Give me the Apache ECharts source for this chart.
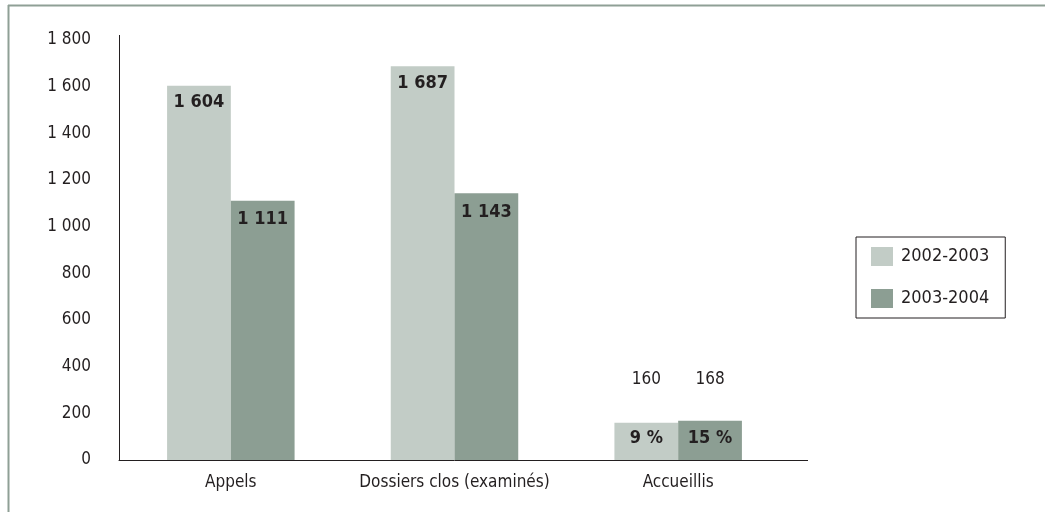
<!DOCTYPE html>
<html>
<head>
<meta charset="utf-8">
<script src="https://cdn.jsdelivr.net/npm/echarts@6/dist/echarts.min.js"></script>
<style>
  html, body { margin: 0; padding: 0; background: #fff; }
  #chart { width: 1045px; height: 512px; }
</style>
</head>
<body>
<div id="chart"></div>
<script>
  // data
  var categories = ['Appels', 'Dossiers clos (examinés)', 'Accueillis'];
  var seriesNames = ['2002-2003', '2003-2004'];
  var values0203 = [1604, 1687, 160];
  var values0304 = [1111, 1143, 168];
  var accueillisPct = ['9 %', '15 %'];
  var yTicks = [0, 200, 400, 600, 800, 1000, 1200, 1400, 1600, 1800];

  var FONT = "'Liberation Sans Narrow', 'DejaVu Sans Condensed', 'Liberation Sans', sans-serif";
  var TEXT = '#231f20';

  function fmt(n) {
    // thousands separated by a space, french style
    return String(n).replace(/\B(?=(\d{3})+(?!\d))/g, ' ');
  }

  function buildData(values, idx) {
    return values.map(function (v, i) {
      if (i === 2) {
        return {
          value: v,
          label: {
            position: 'insideBottom',
            distance: 12,
            formatter: '{v|' + fmt(v) + '}\n{gap|}\n{p|' + accueillisPct[idx] + '}',
            rich: {
              v: { fontFamily: FONT, fontSize: 17, fontWeight: 'normal', color: TEXT, lineHeight: 20 },
              gap: { lineHeight: 38 },
              p: { fontFamily: FONT, fontSize: 18, fontWeight: 'bold', color: TEXT, lineHeight: 20 }
            }
          }
        };
      }
      return v;
    });
  }

  var myChart = echarts.init(document.getElementById('chart'));
  var option = {
    backgroundColor: '#fff',
    animation: false,
    color: ['#c2ccc6', '#8c9e93'],
    textStyle: { fontFamily: FONT },
    graphic: [
      { type: 'line', shape: { x1: 8, y1: 5.5, x2: 1045, y2: 5.5 }, style: { stroke: '#8fa096', lineWidth: 2 } },
      { type: 'line', shape: { x1: 8.5, y1: 5, x2: 8.5, y2: 512 }, style: { stroke: '#8fa096', lineWidth: 2 } },
      { type: 'line', shape: { x1: 790, y1: 460.5, x2: 808, y2: 460.5 }, style: { stroke: TEXT, lineWidth: 1 } },
      { type: 'line', shape: { x1: 119.5, y1: 35, x2: 119.5, y2: 41 }, style: { stroke: TEXT, lineWidth: 1 } }
    ],
    grid: { left: 119, right: 255, top: 40, bottom: 52, containLabel: false },
    legend: {
      orient: 'vertical',
      left: 856,
      top: 237,
      padding: [10, 16, 10, 15],
      itemWidth: 22,
      itemHeight: 19,
      itemGap: 23,
      borderColor: TEXT,
      borderWidth: 1,
      icon: 'rect',
      data: seriesNames,
      textStyle: { fontFamily: FONT, fontSize: 18, color: TEXT, padding: [0, 0, 0, 3] }
    },
    xAxis: {
      type: 'category',
      data: categories,
      axisLine: { lineStyle: { color: TEXT, width: 1 } },
      axisTick: { show: false },
      axisLabel: { interval: 0, fontFamily: FONT, fontSize: 17, color: TEXT, margin: 14 }
    },
    yAxis: {
      type: 'value',
      min: yTicks[0],
      max: yTicks[yTicks.length - 1],
      interval: 200,
      axisLine: { show: true, lineStyle: { color: TEXT, width: 1 } },
      axisTick: { show: false },
      splitLine: { show: false },
      axisLabel: {
        fontFamily: FONT, fontSize: 17, color: TEXT, margin: 28,
        formatter: function (v) { return fmt(v); }
      }
    },
    series: [
      {
        name: seriesNames[0],
        type: 'bar',
        barGap: '0%',
        barCategoryGap: '43%',
        data: buildData(values0203, 0),
        label: {
          show: true,
          position: 'insideTop',
          distance: 8,
          fontFamily: FONT,
          fontSize: 18,
          fontWeight: 'bold',
          color: TEXT,
          formatter: function (p) { return fmt(p.value); }
        }
      },
      {
        name: seriesNames[1],
        type: 'bar',
        barGap: '0%',
        barCategoryGap: '43%',
        data: buildData(values0304, 1),
        label: {
          show: true,
          position: 'insideTop',
          distance: 10,
          fontFamily: FONT,
          fontSize: 18,
          fontWeight: 'bold',
          color: TEXT,
          formatter: function (p) { return fmt(p.value); }
        }
      }
    ]
  };
  option && myChart.setOption(option);
</script>
</body>
</html>
